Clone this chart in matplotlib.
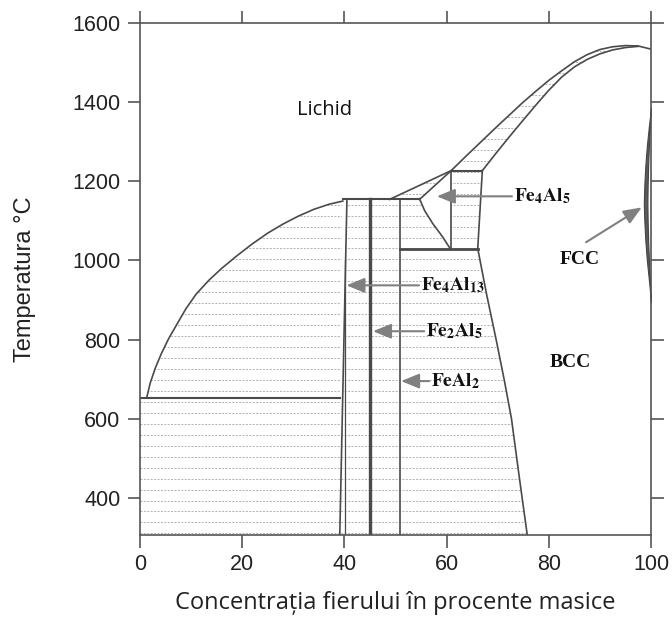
import numpy as np
import matplotlib
matplotlib.use("Agg")
import matplotlib.pyplot as plt
from matplotlib.patches import Polygon
from matplotlib.collections import LineCollection

plt.rcParams['mathtext.fontset'] = 'stix'

# liquidus, Al-rich side (wt% Fe, degC)
liq_al_x = [1.3, 2.0, 3.0, 4.2, 5.6, 7.2, 9.0, 11.0, 13.5, 16.0, 19.0, 22.0, 25.0, 28.0, 31.0, 34.0, 37.0, 39.7]
liq_al_t = [652, 690, 728, 765, 802, 838, 878, 915, 950, 980, 1012, 1042, 1069, 1092, 1112, 1129, 1142, 1150]

# liquidus, Fe-rich side
liq_fe_x = [48.8, 60.9, 64.0, 67.0, 70.0, 72.5, 74.9, 77.5, 80.0, 82.5, 85.0, 87.5, 90.0, 92.5, 95.0, 97.5, 100.0]
liq_fe_t = [1154, 1227, 1266, 1303, 1340, 1370, 1399, 1428, 1455, 1479, 1502, 1520, 1533, 1540, 1543, 1542, 1534]

# solidus of BCC
sol_x = [67.0, 69.5, 72.0, 74.5, 77.5, 80.0, 82.5, 85.0, 87.5, 90.0, 92.5, 95.0, 97.5]
sol_t = [1227, 1268, 1308, 1347, 1393, 1430, 1463, 1489, 1508, 1522, 1532, 1538, 1541]

# FeAl2 + BCC / BCC boundary
bnd_x = [66.1, 67.9, 69.7, 71.3, 72.7, 74.2, 75.8]
bnd_t = [1030, 910, 800, 697, 600, 455, 305]

# Fe4Al5 lower-left boundary
eps_x = [54.7, 55.7, 57.3, 59.2, 60.7]
eps_t = [1156, 1126, 1093, 1060, 1030]

# FCC loop
gam_t = [1385, 1340, 1290, 1240, 1190, 1145, 1100, 1050, 1000, 950, 895]
gam_out_x = [100, 99.6, 99.2, 98.9, 98.7, 98.6, 98.7, 98.9, 99.2, 99.6, 100]
gam_in_x = [100, 99.8, 99.6, 99.45, 99.35, 99.3, 99.35, 99.45, 99.6, 99.8, 100]

# invariant temperatures and compositions
t_eut = 652
t_per = 1154
t_eps = 1227
t_low = 1030
x_eut = 39.1
x_fe4al13 = 40.2
x_fe2al5 = 45.1
x_feal2 = 50.8
x_box_l = 60.9
x_tri = 54.7
t_bottom = 306

# phase labels: text, x, T, arrow tip
labels = ['$\\mathbf{Fe_4Al_5}$', '$\\mathbf{Fe_4Al_{13}}$', '$\\mathbf{Fe_2Al_5}$', '$\\mathbf{FeAl_2}$']
label_x = [73.2, 55.0, 56.0, 57.0]
label_t = [1162, 937, 821, 695]
tip_x = [58.1, 40.4, 45.6, 51.1]

fig = plt.figure(figsize=(6.72, 6.19), dpi=100)
ax = fig.add_axes([0.2083, 0.1357, 0.7604, 0.8271])
ax.set_xlim(0, 100)
ax.set_ylim(t_bottom, 1600)

line_c = '#4a4a4a'

# hatched two-phase regions
regions = [
    list(zip(liq_al_x, liq_al_t)) + [(x_eut + 0.5, t_per), (x_eut, t_eut)],
    [(0, t_bottom), (x_eut, t_bottom), (x_eut, t_eut), (0, t_eut)],
    [(x_eut, t_bottom), (x_fe2al5, t_bottom), (x_fe2al5, t_per), (x_eut + 1.3, t_per)],
    [(x_fe2al5, t_bottom), (x_feal2, t_bottom), (x_feal2, t_per), (x_fe2al5, t_per)],
    [(x_feal2, t_bottom)] + list(zip(bnd_x[::-1], bnd_t[::-1])) + [(x_feal2, t_low)],
    [(x_feal2, t_low)] + list(zip(eps_x[::-1], eps_t[::-1])) + [(x_feal2, t_per)],
    [(x_box_l, t_low), (bnd_x[0], t_low), (sol_x[0], t_eps), (x_box_l, t_eps)],
    list(zip(liq_fe_x[1:], liq_fe_t[1:])) + list(zip(sol_x[::-1], sol_t[::-1])),
    [(liq_fe_x[0], t_per), (x_tri, t_per), (x_box_l, t_eps)],
]
levels = np.arange(t_bottom + 4, 1600, 27.7)
for reg in regions:
    patch = Polygon(reg, closed=True, fill=False, edgecolor='none')
    ax.add_patch(patch)
    segs = [[(0, lv), (100, lv)] for lv in levels]
    lc = LineCollection(segs, colors='#b0b0b0', linewidths=0.7, linestyles=(0, (2, 1.5)))
    ax.add_collection(lc)
    lc.set_clip_path(patch)

# phase boundaries
ax.plot(liq_al_x, liq_al_t, color=line_c, lw=1.2)
ax.plot(liq_fe_x, liq_fe_t, color=line_c, lw=1.2)
ax.plot(sol_x, sol_t, color=line_c, lw=1.2)
ax.plot(bnd_x, bnd_t, color=line_c, lw=1.2)
ax.plot(eps_x, eps_t, color=line_c, lw=1.2)
ax.plot([0, x_eut], [t_eut, t_eut], color=line_c, lw=1.5)
ax.plot([liq_al_x[-1], x_tri], [t_per, t_per], color=line_c, lw=1.5)
ax.plot([x_eut, x_eut + 1.4], [t_bottom, t_per], color=line_c, lw=1.2)
ax.plot([x_fe4al13, x_fe4al13], [t_bottom, 1000], color=line_c, lw=0.9)
ax.plot([x_fe2al5, x_fe2al5], [t_bottom, t_per], color=line_c, lw=2.4)
ax.plot([x_feal2, x_feal2], [t_bottom, t_per], color=line_c, lw=1.2)
ax.plot([x_feal2, bnd_x[0]], [t_low, t_low], color=line_c, lw=2.0)
ax.plot([x_box_l, x_box_l], [t_low, t_eps], color=line_c, lw=1.2)
ax.plot([x_box_l, sol_x[0]], [t_eps, t_eps], color=line_c, lw=1.5)
ax.plot([sol_x[0], bnd_x[0]], [t_eps, t_low], color=line_c, lw=1.2)
ax.plot([x_tri, x_box_l], [t_per, t_eps], color=line_c, lw=1.2)

# FCC loop
ax.fill_betweenx(gam_t, gam_out_x, gam_in_x, color='#5a5a5a', lw=0.8, edgecolor='#444444')

# labels and arrows
arrow_c = '#808080'
for txt, lx, lt, tx in zip(labels, label_x, label_t, tip_x):
    ax.text(lx, lt, txt, fontsize=14, ha='left', va='center', color='#111111')
    ax.annotate('', xy=(tx, lt), xytext=(lx - 0.4, lt),
                arrowprops=dict(arrowstyle='-|>,head_length=1.1,head_width=0.45',
                                color=arrow_c, lw=1.5, shrinkA=0, shrinkB=0))

ax.text(86.1, 1003, 'FCC', fontsize=14, fontweight='bold', family='Liberation Serif',
        ha='center', va='center', color='#111111')
ax.annotate('', xy=(98.2, 1134), xytext=(87.3, 1046),
            arrowprops=dict(arrowstyle='-|>,head_length=1.1,head_width=0.45',
                            color=arrow_c, lw=1.5, shrinkA=0, shrinkB=0))
ax.text(84.2, 742, 'BCC', fontsize=14, fontweight='bold', family='Liberation Serif',
        ha='center', va='center', color='#111111')
ax.text(36.1, 1381, 'Lichid', fontsize=14.5, family='Open Sans',
        ha='center', va='center', color='#111111')

# axes styling
for sp in ax.spines.values():
    sp.set_color('#555555')
    sp.set_linewidth(1.2)
ax.set_xticks([0, 20, 40, 60, 80, 100])
ax.set_yticks([400, 600, 800, 1000, 1200, 1400, 1600])
ax.tick_params(direction='out', length=9, width=1.2, color='#555555',
               top=True, right=True, labelsize=15.5, labelcolor='#222222', pad=5)
for lab in ax.get_xticklabels() + ax.get_yticklabels():
    lab.set_family('Liberation Sans')

ax.set_xlabel('Concentrația fierului în procente masice', fontsize=17,
              family='Open Sans', color='#222222', labelpad=11)
ax.set_ylabel('Temperatura °C', fontsize=17, family='Liberation Sans',
              color='#222222', labelpad=26)

fig.savefig('out.png', dpi=100)
